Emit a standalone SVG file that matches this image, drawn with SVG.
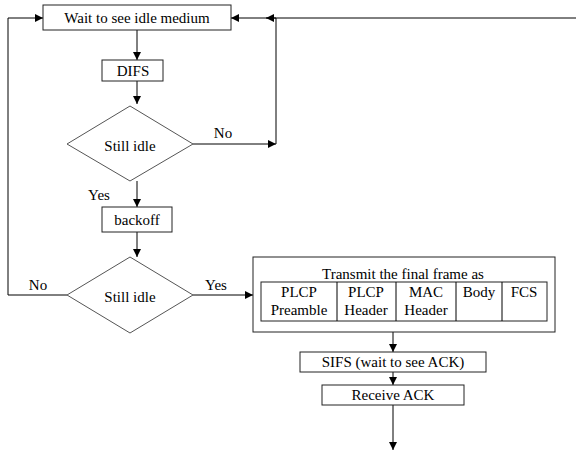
<svg xmlns="http://www.w3.org/2000/svg" width="576" height="469" viewBox="0 0 576 469">
<style>
text{font-family:"Liberation Serif","Times New Roman",serif;font-size:15px;fill:#000;text-anchor:middle}
.box{fill:#fff;stroke:#222;stroke-width:1}
.dia{fill:#fff;stroke:#555;stroke-width:1}
.ln{fill:none;stroke:#000;stroke-width:1}
</style>
<defs>
<marker id="ah" viewBox="0 0 8 8" refX="8" refY="4" markerWidth="8" markerHeight="8" markerUnits="userSpaceOnUse" orient="auto">
<path d="M0,0 L8,4 L0,8 Z" fill="#000"/>
</marker>
</defs>
<rect width="576" height="469" fill="#fff"/>
<g id="connectors">
<path class="ln" d="M137,30 V60" marker-end="url(#ah)"/>
<path class="ln" d="M137,81 V104" marker-end="url(#ah)"/>
<path class="ln" d="M193,144 H276" marker-end="url(#ah)"/>
<path class="ln" d="M276,144 V18 H231" marker-end="url(#ah)"/>
<path class="ln" d="M576,18 H266" marker-end="url(#ah)"/>
<path class="ln" d="M137,181 V207" marker-end="url(#ah)"/>
<path class="ln" d="M137,232 V257" marker-end="url(#ah)"/>
<path class="ln" d="M67,295 H8 V18 H43" marker-end="url(#ah)"/>
<path class="ln" d="M193,295 H253" marker-end="url(#ah)"/>
<path class="ln" d="M393,332 V352" marker-end="url(#ah)"/>
<path class="ln" d="M393,372 V385" marker-end="url(#ah)"/>
<path class="ln" d="M393,405 V450" marker-end="url(#ah)"/>
<text x="223" y="138">No</text>
<text x="99" y="200">Yes</text>
<text x="38" y="290">No</text>
<text x="216" y="290">Yes</text>
</g>
<g id="wait">
<rect class="box" x="43" y="5" width="188" height="25"/>
<text x="137" y="23">Wait to see idle medium</text>
</g>
<g id="difs">
<rect class="box" x="102" y="60" width="61" height="21"/>
<text x="133" y="76">DIFS</text>
</g>
<g id="idle1">
<polygon class="dia" points="130,106 193,144 130,181 67,144"/>
<text x="130" y="151">Still idle</text>
</g>
<g id="backoff">
<rect class="box" x="102" y="207" width="70" height="25"/>
<text x="137" y="225">backoff</text>
</g>
<g id="idle2">
<polygon class="dia" points="130,257 193,295 130,333 67,295"/>
<text x="130" y="302">Still idle</text>
</g>
<g id="transmit">
<rect class="box" x="253" y="257" width="302" height="75"/>
<text x="403" y="279">Transmit the final frame as</text>
<rect class="box" x="261" y="282" width="286" height="39"/>
<path class="ln" d="M337,282 V321 M396,282 V321 M456,282 V321 M502,282 V321" stroke="#222"/>
<text x="299" y="297">PLCP</text>
<text x="299" y="315">Preamble</text>
<text x="366" y="297">PLCP</text>
<text x="366" y="315">Header</text>
<text x="426" y="297">MAC</text>
<text x="426" y="315">Header</text>
<text x="479" y="297">Body</text>
<text x="524" y="297">FCS</text>
</g>
<g id="sifs">
<rect class="box" x="300" y="352" width="186" height="20"/>
<text x="393" y="367">SIFS (wait to see ACK)</text>
</g>
<g id="receive">
<rect class="box" x="322" y="385" width="142" height="20"/>
<text x="393" y="400">Receive ACK</text>
</g>
</svg>
